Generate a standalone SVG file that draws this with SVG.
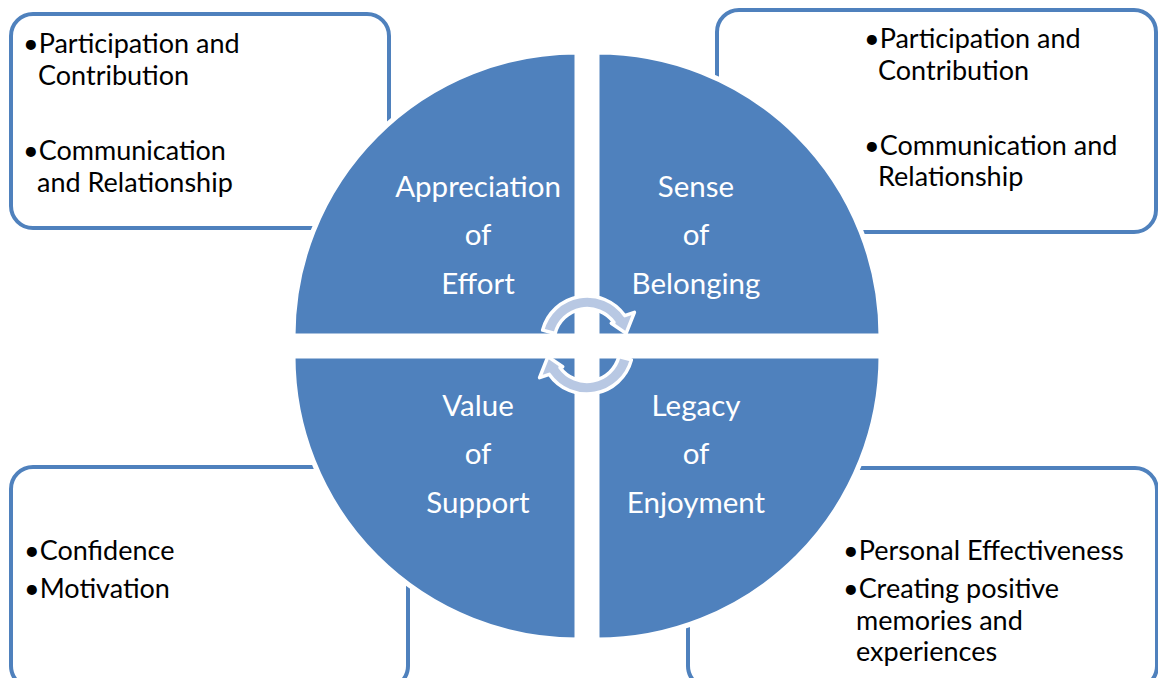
<svg xmlns="http://www.w3.org/2000/svg" width="1158" height="678" viewBox="0 0 1158 678">
<style>
.box{fill:#ffffff;stroke:#4F81BD;stroke-width:4}
.quad{fill:#4F81BD;stroke:#ffffff;stroke-width:5}
.qt{font-family:Lato,"Liberation Sans",sans-serif;font-size:29.5px;fill:#ffffff;text-anchor:middle}
.bt{font-family:Lato,"Liberation Sans",sans-serif;font-size:27px;fill:#000000}
.arr{fill:#B8C8E3;stroke:#ffffff;stroke-width:3.5;stroke-linejoin:round}
</style>
<rect width="1158" height="678" fill="#ffffff"/>
<g id="box-tl"><rect class="box" x="11" y="14" width="378" height="214" rx="22"/>
<text class="bt" x="23" y="53">•Participation and</text>
<text class="bt" x="38" y="85">Contribution</text>
<text class="bt" x="23" y="160">•Communication</text>
<text class="bt" x="37" y="192">and Relationship</text>
</g>
<g id="box-tr"><rect class="box" x="717" y="10" width="439" height="222" rx="22"/>
<text class="bt" x="864" y="48">•Participation and</text>
<text class="bt" x="878" y="80">Contribution</text>
<text class="bt" x="864" y="155">•Communication and</text>
<text class="bt" x="878" y="186">Relationship</text>
</g>
<g id="box-bl"><rect class="box" x="11" y="467" width="397" height="221" rx="22"/>
<text class="bt" x="24" y="560">•Confidence</text>
<text class="bt" x="24" y="598">•Motivation</text>
</g>
<g id="box-br"><rect class="box" x="688" y="468" width="469" height="220" rx="22"/>
<text class="bt" x="843" y="560">•Personal Effectiveness</text>
<text class="bt" x="843" y="598">•Creating positive</text>
<text class="bt" x="856" y="630">memories and</text>
<text class="bt" x="856" y="661">experiences</text>
</g>
<g id="quad-tl"><path class="quad" d="M577 336 L293 336 A284 284 0 0 1 577 52 Z"/>
<text class="qt" x="478" y="197">Appreciation</text><text class="qt" x="478" y="245">of</text><text class="qt" x="478" y="294">Effort</text></g>
<g id="quad-tr"><path class="quad" d="M597 336 L597 52 A284 284 0 0 1 881 336 Z"/>
<text class="qt" x="696" y="197">Sense</text><text class="qt" x="696" y="245">of</text><text class="qt" x="696" y="294">Belonging</text></g>
<g id="quad-bl"><path class="quad" d="M577 356 L577 640 A284 284 0 0 1 293 356 Z"/>
<text class="qt" x="478" y="416">Value</text><text class="qt" x="478" y="464">of</text><text class="qt" x="478" y="513">Support</text></g>
<g id="quad-br"><path class="quad" d="M597 356 L881 356 A284 284 0 0 1 597 640 Z"/>
<text class="qt" x="696" y="416">Legacy</text><text class="qt" x="696" y="464">of</text><text class="qt" x="696" y="513">Enjoyment</text></g>
<g id="connectors">
<path id="arrow-top" class="arr" d="M542.6 330.1 A46 46 0 0 1 624.7 315.6 L634.4 312.3 L626.1 333.4 L611.3 323.2 L614.0 322.5 A33 33 0 0 0 555.1 333.5 Z"/>
<path id="arrow-bottom" class="arr" transform="rotate(180 587 345)" d="M542.6 330.1 A46 46 0 0 1 624.7 315.6 L634.4 312.3 L626.1 333.4 L611.3 323.2 L614.0 322.5 A33 33 0 0 0 555.1 333.5 Z"/>
</g>
</svg>
